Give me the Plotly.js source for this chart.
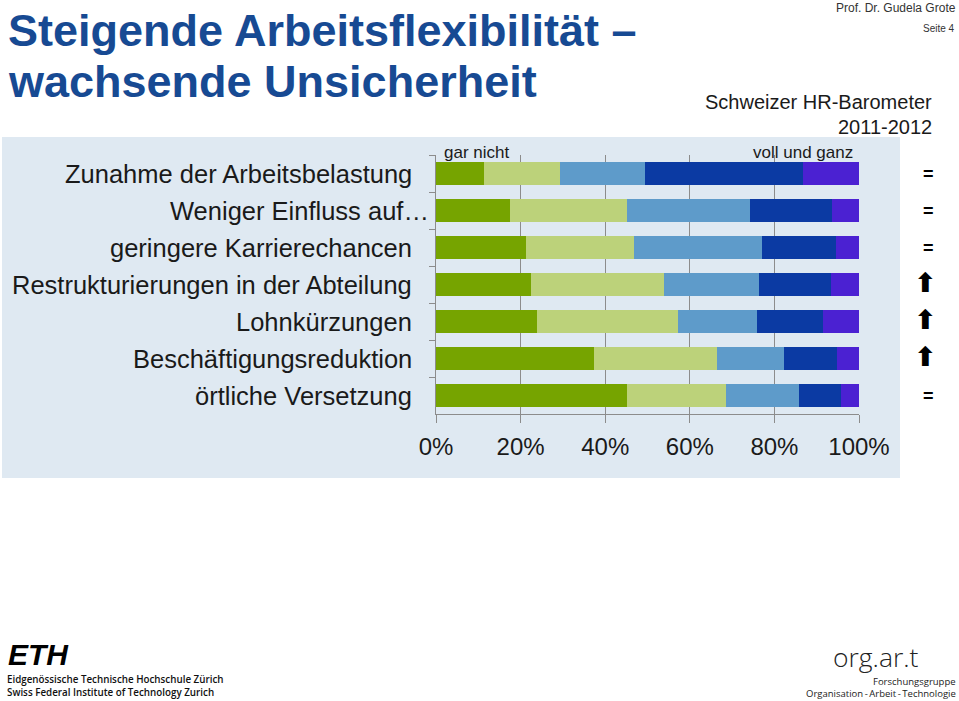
<!DOCTYPE html>
<html>
<head>
<meta charset="utf-8">
<script src="https://cdn.plot.ly/plotly-3.0.1.min.js"></script>
<style>
html,body{margin:0;padding:0;background:#fff;}
#chart{width:959px;height:701px;}
</style>
</head>
<body>
<div id="chart"></div>
<script>
// ---- data ----
var categories = [
  'Zunahme der Arbeitsbelastung',
  'Weniger Einfluss auf…',
  'geringere Karrierechancen',
  'Restrukturierungen in der Abteilung',
  'Lohnkürzungen',
  'Beschäftigungsreduktion',
  'örtliche Versetzung'
];
var seriesNames = ['1 (gar nicht)', '2', '3', '4', '5 (voll und ganz)'];
var s1 = [11.3, 17.6, 21.2, 22.4, 23.8, 37.3, 45.1];
var s2 = [17.9, 27.5, 25.6, 31.5, 33.3, 29.2, 23.4];
var s3 = [20.3, 29.2, 30.2, 22.4, 18.9, 15.8, 17.4];
var s4 = [37.3, 19.4, 17.6, 17.1, 15.5, 12.6, 9.8];
var s5 = [13.2, 6.3, 5.4, 6.6, 8.5, 5.1, 4.3];
var tickVals = [0, 20, 40, 60, 80, 100];
var tickText = ['0%', '20%', '40%', '60%', '80%', '100%'];
var trends = ['=', '=', '=', '⬆', '⬆', '⬆', '='];

// ---- styling ----
var colors = ['#76a400', '#bcd27a', '#5e9bca', '#0b3aa3', '#4b21d2'];
var FONT = 'Liberation Sans, Arial, Helvetica, sans-serif';
var L = 436, R = 100, T = 155, B = 287, W = 959, H = 701;
var PW = W - L - R, PH = H - T - B;
function px(x) { return (x - L) / PW; }
function py(y) { return (T + PH - y) / PH; }

var all = [s1, s2, s3, s4, s5];
var traces = all.map(function (vals, i) {
  return {
    type: 'bar', orientation: 'h',
    x: vals, y: categories, name: seriesNames[i],
    marker: { color: colors[i], line: { width: 0 } },
    hoverinfo: 'x+y+name'
  };
});

var ann = [];
function txt(t, x, y, size, opts) {
  opts = opts || {};
  ann.push(Object.assign({
    text: t, xref: 'paper', yref: 'paper', x: px(x), y: py(y),
    xanchor: opts.xanchor || 'left', yanchor: 'middle', showarrow: false,
    font: { family: opts.family || FONT, size: size, color: opts.color || '#1a1a1a',
            weight: opts.weight || 'normal', style: opts.style || 'normal' }
  }, opts.extra || {}));
}

// titles
txt('Steigende Arbeitsflexibilität –', 6, 30, 45, { color: '#174a93', weight: 'bold' });
txt('wachsende Unsicherheit', 6, 82, 45, { color: '#174a93', weight: 'bold' });
txt('Prof. Dr. Gudela Grote', 958, 8, 12, { xanchor: 'right', color: '#333' });
txt('Seite 4', 957, 28, 10, { xanchor: 'right', color: '#333' });
txt('Schweizer HR-Barometer', 934, 102, 20, { xanchor: 'right' });
txt('2011-2012', 934, 127, 20, { xanchor: 'right' });
txt('gar nicht', 442, 152, 17, {});
txt('voll und ganz', 855, 152, 17, { xanchor: 'right' });

// category labels + trend markers
categories.forEach(function (c, i) {
  var end = c.slice(-1) === '…' ? 431 : 414;
  ann.push({
    text: c, xref: 'paper', yref: 'y', x: px(end), y: c,
    xanchor: 'right', yanchor: 'middle', showarrow: false,
    font: { family: FONT, size: 25.5, color: '#1a1a1a' }
  });
  var isEq = trends[i] === '=';
  ann.push({
    text: trends[i], xref: 'paper', yref: 'y', x: px(isEq ? 928 : 925), y: c,
    yshift: isEq ? 0 : 2,
    xanchor: 'center', yanchor: 'middle', showarrow: false,
    font: { family: isEq ? FONT : 'DejaVu Sans, sans-serif', size: isEq ? 18 : 27,
            color: '#000', weight: 'bold' }
  });
});

// logos
txt('ETH', 6, 654, 30, { weight: 'bold', style: 'italic', color: '#000' });
txt('Eidgenössische Technische Hochschule Zürich', 5, 679, 9.8, { family: 'Open Sans, sans-serif', weight: 600, color: '#111' });
txt('Swiss Federal Institute of Technology Zurich', 5, 692, 9.8, { family: 'Open Sans, sans-serif', weight: 600, color: '#111' });
txt('org.ar.t', 831, 657, 26.5, { family: 'Open Sans, sans-serif', weight: 300, color: '#222' });
txt('Forschungsgruppe', 958, 681.5, 9.5, { xanchor: 'right', family: 'Open Sans, sans-serif', color: '#222' });
txt('Organisation\u2009-\u2009Arbeit\u2009-\u2009Technologie', 958, 693.5, 9.5, { xanchor: 'right', family: 'Open Sans, sans-serif', color: '#222' });

var layout = {
  width: W, height: H,
  margin: { l: L, r: R, t: T, b: B, pad: 0 },
  paper_bgcolor: '#ffffff',
  plot_bgcolor: 'rgba(0,0,0,0)',
  barmode: 'stack',
  bargap: 0.4,
  showlegend: false,
  font: { family: FONT, color: '#1a1a1a' },
  xaxis: {
    range: [0, 100], tickvals: tickVals, ticktext: tickText,
    showgrid: true, gridcolor: '#8c8c8c', gridwidth: 1,
    showline: true, linecolor: '#8c8c8c', linewidth: 1,
    ticks: 'outside', ticklen: 8, tickcolor: '#8c8c8c',
    tickfont: { size: 24, color: '#1a1a1a' }, zeroline: false, fixedrange: true,
    ticklabelstandoff: 3
  },
  yaxis: {
    type: 'category', categoryorder: 'array', categoryarray: categories,
    autorange: 'reversed', showticklabels: false, showgrid: false,
    showline: true, linecolor: '#8c8c8c', linewidth: 1,
    ticks: 'outside', tickson: 'boundaries', ticklen: 6, tickcolor: '#8c8c8c',
    zeroline: false, fixedrange: true
  },
  shapes: [{
    type: 'rect', xref: 'paper', yref: 'paper', layer: 'below',
    x0: px(2), x1: px(900), y0: py(478), y1: py(137),
    fillcolor: '#dfe9f2', line: { width: 0 }
  }],
  annotations: ann
};

Plotly.newPlot('chart', traces, layout, { staticPlot: true, displayModeBar: false });
</script>
</body>
</html>
